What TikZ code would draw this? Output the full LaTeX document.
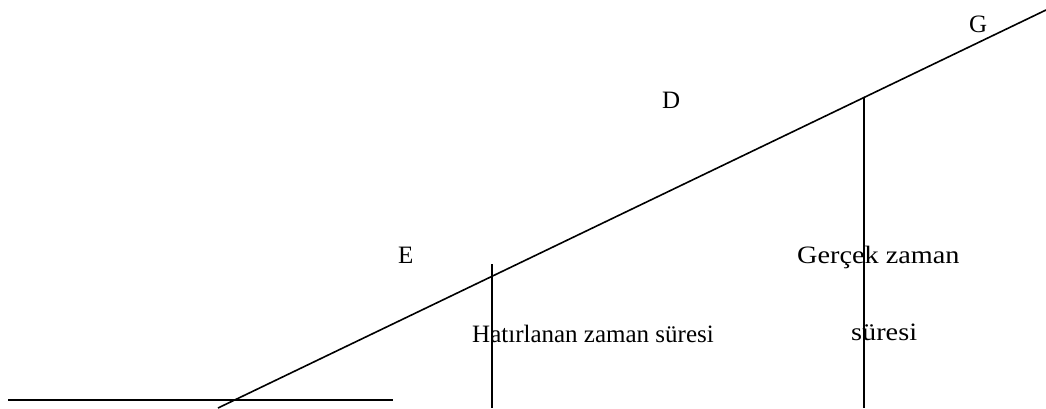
\documentclass[tikz,border=0pt]{standalone}
\usepackage{fontspec}
\setmainfont{Liberation Serif}
\usepackage{tikz}
\usetikzlibrary{positioning}

\newcommand{\widetext}[1]{\scalebox{1.13}[1]{#1}}

\tikzset{
  lbl/.style={anchor=base west, inner sep=0pt, font=\fontsize{25}{30}\selectfont},
  ink/.style={line width=1.6pt, black}
}

\begin{document}
\begin{tikzpicture}[x=1pt, y=-1pt]
        \useasboundingbox (0,0) rectangle (1046,408);
        % axis and sloped line
        \coordinate (axisL) at (8,400);
        \coordinate (axisR) at (393,400);
        \coordinate (slopeB) at (218,408);
        \coordinate (slopeT) at (1046,10);
        \draw[ink] (axisL) -- (axisR);
        \draw[ink] (slopeB) -- (slopeT);
        % vertical marks
        \coordinate (markAtop) at (492,264);
        \coordinate (markAbot) at (492,408);
        \coordinate (markBtop) at (864,98);
        \coordinate (markBbot) at (864,408);
        \draw[ink] (markAtop) -- (markAbot);
        \draw[ink] (markBtop) -- (markBbot);
        % labels
        \node[lbl] (labG) at (969,32) {G};
        \node[lbl] (labD) at (662,108) {D};
        \node[lbl] (labE) at (398,263) {E};
        \node[lbl] (realTop) at (797,263) {\widetext{Gerçek zaman}};
        \node[lbl] (realBot) at (851,340) {\widetext{süresi}};
        \node[lbl] (recalled) at (472,342) {Hatırlanan zaman süresi};
      \end{tikzpicture}
\end{document}
